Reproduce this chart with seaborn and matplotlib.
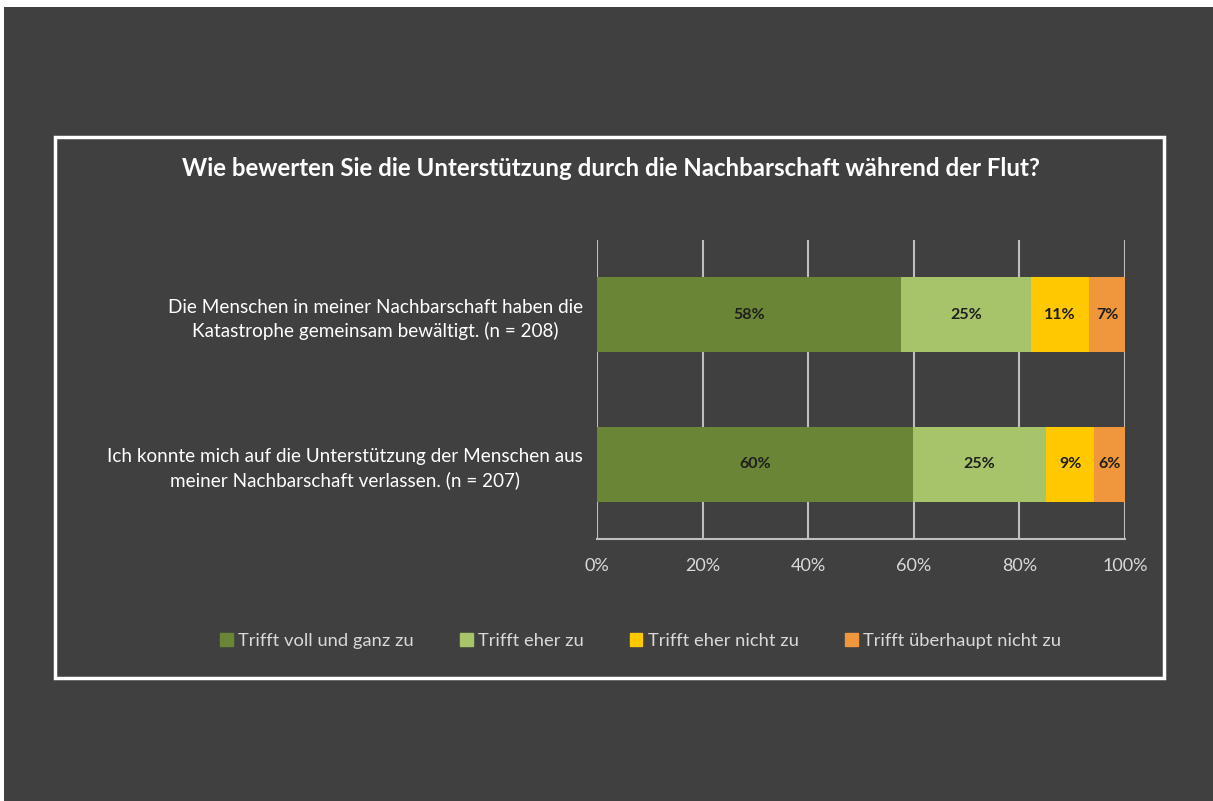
import numpy as np
import pandas as pd
import matplotlib.pyplot as plt
import matplotlib.patches as mpatches
import seaborn as sns

# survey answers (share of respondents, %)
questions = [
    "Die Menschen in meiner Nachbarschaft haben die\nKatastrophe gemeinsam bewältigt. (n = 208)",
    "Ich konnte mich auf die Unterstützung der Menschen aus\nmeiner Nachbarschaft verlassen. (n = 207)",
]
answers = ["Trifft voll und ganz zu", "Trifft eher zu", "Trifft eher nicht zu", "Trifft überhaupt nicht zu"]
voll = [57.5, 59.8]
eher = [24.7, 25.3]
eher_nicht = [11.0, 9.0]
gar_nicht = [6.8, 5.9]
colors = ["#6a8535", "#a8c46a", "#ffc800", "#f0963c"]

bg = "#404040"
grid_c = "#bfbfbf"
text_c = "#d9d9d9"

df = pd.DataFrame({"Frage": questions, answers[0]: voll, answers[1]: eher,
                   answers[2]: eher_nicht, answers[3]: gar_nicht})
cum = df[answers].cumsum(axis=1)

sns.set_theme(style="white")
plt.rcParams["font.family"] = ["Lato", "DejaVu Sans"]

fig = plt.figure(figsize=(12.13, 8.01), dpi=100, facecolor=bg)
ax = fig.add_axes([0.4922, 0.3271, 0.9275 - 0.4922, 0.7004 - 0.3271])
ax.set_facecolor(bg)

# stacked bars: draw cumulative totals from the right-most segment back
for ans, col in reversed(list(zip(answers, colors))):
    sns.barplot(x=cum[ans], y=df["Frage"], color=col, width=0.5, orient="h",
                ax=ax, zorder=3, saturation=1, linewidth=0, edgecolor="none")

# value labels in the middle of each segment
for i in range(len(questions)):
    start = 0
    for ans in answers:
        v = df.loc[i, ans]
        ax.text(start + v / 2, i, f"{int(v + 0.5)}%", ha="center", va="center",
                fontsize=11.5, fontweight="bold", color="#1e1e1e", zorder=4)
        start += v

ax.set_xlim(0, 100)
ax.set_ylim(1.5, -0.5)
ax.set_xticks(np.arange(0, 101, 20))
ax.set_xticklabels([f"{t}%" for t in range(0, 101, 20)])
ax.xaxis.grid(True, color=grid_c, linewidth=1.5, zorder=0)
ax.set_axisbelow(True)
for s in ["top", "right", "left"]:
    ax.spines[s].set_visible(False)
ax.spines["bottom"].set_color(grid_c)
ax.spines["bottom"].set_linewidth(1.5)
ax.tick_params(axis="x", colors=text_c, labelsize=13, length=0, pad=14)
ax.tick_params(axis="y", colors="white", labelsize=13.6, length=0, pad=10)
for lab in ax.get_yticklabels():
    lab.set_ha("right")
    lab.set_multialignment("center")
    lab.set_linespacing(1.4)
    lab.set_color("white")
ax.set_xlabel("")
ax.set_ylabel("")

fig.text(0.504, 0.79, "Wie bewerten Sie die Unterstützung durch die Nachbarschaft während der Flut?",
         ha="center", va="center", fontsize=17.3, fontweight="bold", color="white")

handles = [mpatches.Patch(color=c, label=a) for a, c in zip(answers, colors)]
leg = fig.legend(handles=handles, loc="center", bbox_to_anchor=(0.528, 0.2), ncol=4,
                 frameon=False, fontsize=13.2, handlelength=0.7, handleheight=0.7,
                 handletextpad=0.3, columnspacing=2.5)
for t in leg.get_texts():
    t.set_color(text_c)

# white frame around the chart and the white strip at the image edge
fig.patches.append(mpatches.Rectangle((55 / 1213, 1 - 678 / 801), (1164 - 55) / 1213, (678 - 137) / 801,
                                      transform=fig.transFigure, fill=False, edgecolor="white",
                                      linewidth=2.5))
fig.patches.append(mpatches.Rectangle((0, 1 - 7 / 801), 1, 7 / 801, transform=fig.transFigure,
                                      color="white", linewidth=0))
fig.patches.append(mpatches.Rectangle((0, 0), 4 / 1213, 1, transform=fig.transFigure,
                                      color="white", linewidth=0))

fig.savefig("out.png", dpi=100, facecolor=bg)
